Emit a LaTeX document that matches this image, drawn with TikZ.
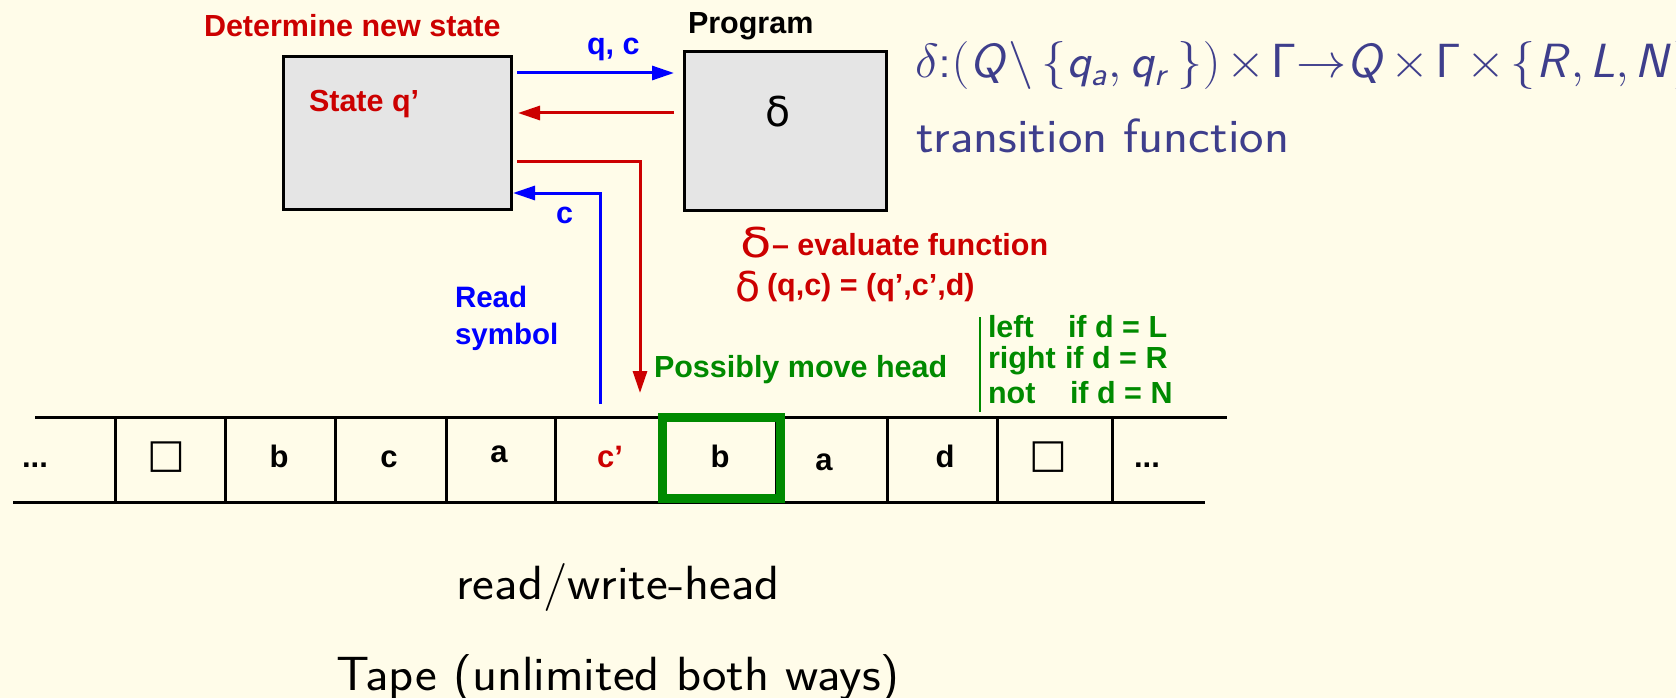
\RequirePackage{fix-cm}
\documentclass[tikz,border=0pt]{standalone}
\usepackage[no-math]{fontspec}
\setmainfont{Liberation Sans}
\newfontfamily\dvs{DejaVu Sans}
\usepackage{graphicx}
\usetikzlibrary{arrows.meta}
\DeclareMathAlphabet{\mathsfit}{OT1}{cmss}{m}{sl}
\definecolor{bg}{RGB}{255,252,233}
\definecolor{dred}{RGB}{204,0,0}
\definecolor{mblue}{RGB}{0,0,255}
\definecolor{mgreen}{RGB}{0,138,0}
\definecolor{fblue}{RGB}{62,62,140}
\definecolor{boxgray}{RGB}{229,229,229}
\newcommand\AB[3]{{\fontsize{#1}{#1}\selectfont\bfseries\scalebox{#2}[1]{#3}}}
\newcommand\DL[2]{{\dvs\fontsize{#1}{#1}\selectfont\scalebox{#2}[1]{δ}}}
\newcommand\LM[2]{{\fontsize{48}{58}\selectfont\sffamily\scalebox{#1}[1]{#2}}}
\tikzset{
  lbl/.style={inner sep=0pt, outer sep=0pt, anchor=base west},
  cbl/.style={inner sep=0pt, outer sep=0pt, anchor=base},
  bigbox/.style={draw=black, line width=3pt, fill=boxgray, inner sep=0pt, outer sep=0pt},
  tapeline/.style={line width=3pt, draw=black},
  barr/.style={draw=mblue, line width=3pt, -{Triangle[length=22pt,width=14pt]}},
  rarr/.style={draw=dred, line width=3pt, -{Triangle[length=22pt,width=14pt]}},
}
\begin{document}
\begin{tikzpicture}[x=1pt,y=-1pt]
\fill[bg] (0,0) rectangle (1676,698);
\useasboundingbox (0,0) rectangle (1676,698);

% boxes
\node[bigbox, minimum width=228pt, minimum height=153pt] (st) at (397.5,133) {};
\node[bigbox, minimum width=202pt, minimum height=158pt] (pg) at (785.5,131) {};

% labels near boxes
\node[lbl, text=dred] (det) at (204,37) {\AB{30.5}{1.0}{Determine new state}};
\node[lbl, text=dred] (stl) at (309,112) {\AB{30.5}{1.0}{State q’}};
\node[lbl, text=black] (prg) at (688,34) {\AB{30.5}{1.0}{Program}};
\node[lbl, text=black] (pgd) at (765,127) {\DL{41}{1.0}};
\node[lbl, text=mblue] (qc) at (587,55) {\AB{30.5}{1.0}{q, c}};
\node[lbl, text=mblue] (cl) at (556,223) {\AB{30.5}{1.0}{c}};
\node[lbl, text=mblue] (rd) at (455,307) {\AB{29.5}{1.0}{Read}};
\node[lbl, text=mblue] (sy) at (455,344) {\AB{29.5}{1.0}{symbol}};

% red evaluation texts
\node[lbl, text=dred] (ed1) at (740,257) {\DL{41}{1.25}};
\node[lbl, text=dred] (ev1) at (772,255) {\AB{30.5}{1.0}{– evaluate function}};
\node[lbl, text=dred] (ed2) at (735,301) {\DL{41}{1.0}};
\node[lbl, text=dred] (ev2) at (767,295) {\AB{30.5}{1.0}{(q,c) = (q’,c’,d)}};

% green texts
\node[lbl, text=mgreen] (pmh) at (654,377) {\AB{30.5}{1.0}{Possibly move head}};
\node[lbl, text=mgreen] (g1a) at (988,337) {\AB{30.5}{1.0}{left}};
\node[lbl, text=mgreen] (g1b) at (1068,337) {\AB{30.5}{1.0}{if d = L}};
\node[lbl, text=mgreen] (g2a) at (988,368) {\AB{30.5}{1.0}{right}};
\node[lbl, text=mgreen] (g2b) at (1065,368) {\AB{30.5}{1.0}{if d = R}};
\node[lbl, text=mgreen] (g3a) at (988,403) {\AB{30.5}{1.0}{not}};
\node[lbl, text=mgreen] (g3b) at (1070,403) {\AB{30.5}{1.0}{if d = N}};
\draw[mgreen, line width=2.5pt] (980,317) -- (980,412);

% formula
\node[lbl, text=fblue] (fml) at (915,78) {\LM{1.045}{\medmuskip=2mu
  $\delta$:$(\mathsfit{Q}\backslash\,\{\mathsfit{q}_{\mathsfit{a}},\mathsfit{q}_{\mathsfit{r}}\,\})\times\mathsf{\Gamma}{\rightarrow}\mathsfit{Q}\times\mathsf{\Gamma}\times\{\mathsfit{R},\mkern-1mu\mathsfit{L},\mkern-1mu\mathsfit{N}\}$}};
\node[lbl, text=fblue] (trf) at (916,153) {\LM{1.08}{transition function}};

% arrows
\coordinate (yqc) at (0,73);
\coordinate (yr) at (0,113);
\coordinate (yrl) at (0,162);
\coordinate (ybl) at (0,193);
\coordinate (rdown) at (640,393);
\coordinate (bup) at (600,404);
\draw[barr] ([xshift=5.5pt]st.east |- yqc) -- ([xshift=-10.5pt]pg.west |- yqc);
\draw[rarr] ([xshift=-10.5pt]pg.west |- yr) -- ([xshift=6.5pt]st.east |- yr);
\draw[rarr] ([xshift=5.5pt]st.east |- yrl) -| (rdown);
\draw[barr] (bup) |- ([xshift=1.5pt]st.east |- ybl);

% tape
\draw[tapeline] (35,417) -- (1227,417);
\draw[tapeline] (13,502) -- (1205,502);
\foreach \x in {115,225,335,446,555,665,776,887,997,1112}
  \draw[tapeline] (\x,417) -- (\x,502);
\node[draw=mgreen, line width=9pt, minimum width=118pt, minimum height=81pt, inner sep=0pt, outer sep=0pt] (head) at (721,457.5) {};

\node[cbl] (t0) at (35,467) {\AB{31}{1.0}{...}};
\node[cbl] (t1) at (166,467) {{\dvs\fontsize{40}{40}\selectfont □}};
\node[cbl] (t2) at (279,467) {\AB{31}{1.0}{b}};
\node[cbl] (t3) at (389,467) {\AB{31}{1.0}{c}};
\node[cbl] (t4) at (499,462) {\AB{31}{1.0}{a}};
\node[cbl, text=dred] (t5) at (610,467) {\AB{31}{1.0}{c’}};
\node[cbl] (t6) at (720,467) {\AB{31}{1.0}{b}};
\node[cbl] (t7) at (824,470) {\AB{31}{1.0}{a}};
\node[cbl] (t8) at (945,467) {\AB{31}{1.0}{d}};
\node[cbl] (t9) at (1048,467) {{\dvs\fontsize{40}{40}\selectfont □}};
\node[cbl] (t10) at (1147,467) {\AB{31}{1.0}{...}};

% bottom captions
\node[cbl] (rwh) at (618,599) {\LM{1.08}{read/write-head}};
\node[cbl] (tap) at (618,690) {\LM{1.08}{Tape (unlimited both ways)}};
\end{tikzpicture}
\end{document}
